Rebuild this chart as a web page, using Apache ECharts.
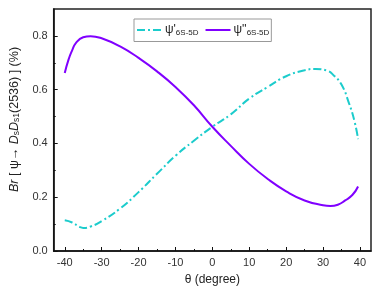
<!DOCTYPE html>
<html><head><meta charset="utf-8">
<script src="https://cdn.jsdelivr.net/npm/echarts@6/dist/echarts.min.js"></script>
<style>html,body{margin:0;padding:0;background:#fff}#c{width:382px;height:291px}</style>
</head><body><div id="c"></div>
<script>
var thetaP = [-40,-38,-36,-35,-33,-30,-25,-20,-15,-10,-5,0,5,10,15,20,25,28,31,33,35,37,38.5,39.5];
var psiP   = [0.114,0.106,0.090,0.086,0.091,0.111,0.158,0.219,0.287,0.354,0.410,0.462,0.508,0.567,0.610,0.650,0.672,0.677,0.671,0.652,0.619,0.551,0.484,0.416];
var thetaPP = [-40,-39,-38,-37,-35,-33,-30,-25,-20,-15,-10,-5,0,5,10,15,20,25,30,32,34,36,38,39.5];
var psiPP   = [0.662,0.711,0.746,0.773,0.795,0.799,0.791,0.761,0.718,0.668,0.610,0.542,0.462,0.391,0.324,0.268,0.222,0.188,0.170,0.167,0.172,0.188,0.209,0.240];
var xTicks = [-40,-30,-20,-10,0,10,20,30,40];
var xMinor = [-35,-25,-15,-5,5,15,25,35];
var yTicks = [0,0.2,0.4,0.6,0.8];
var yMinor = [0.1,0.3,0.5,0.7];

function pairs(xs, ys){ return xs.map(function(x,i){return [x, ys[i]];}); }
var FONT = 'Liberation Sans, Arial, sans-serif';
var chart = echarts.init(document.getElementById('c'));
chart.setOption({
  animation:false,
  textStyle:{fontFamily:FONT},
  grid:{left:44,right:11,top:9,bottom:38,show:true,borderColor:'#222',borderWidth:1.5,backgroundColor:'transparent'},
  legend:{
    top:19,left:134,
    borderColor:'#999',borderWidth:1,borderRadius:0,padding:[5,2,5,2],
    itemWidth:25,itemHeight:10,itemGap:6,
    textStyle:{fontFamily:FONT,fontSize:12,color:'#222',padding:[0,0,0,-2],rich:{sub:{fontSize:8,verticalAlign:'bottom',padding:[5,0,0,0]}}},
    formatter:function(n){ return n==='p1' ? "ψ'{sub|6S-5D}" : "ψ''{sub|6S-5D}"; },
    data:[{name:'p1',itemStyle:{opacity:0}},{name:'p2',itemStyle:{opacity:0}}]
  },
  xAxis:[{
    type:'value',min:-43,max:43,
    name:'θ (degree)',nameLocation:'middle',nameGap:23,
    nameTextStyle:{fontSize:12,color:'#222',fontFamily:FONT},
    axisLine:{show:true,onZero:false,lineStyle:{color:'#111',width:1.5}},
    axisTick:{show:true,inside:true,length:4,customValues:xTicks,lineStyle:{color:'#111'}},
    axisLabel:{customValues:xTicks,fontSize:11,color:'#333',margin:6},
    splitLine:{show:false}
  },{
    type:'value',min:-43,max:43,position:'bottom',
    axisLine:{show:false,onZero:false},
    axisTick:{show:true,inside:true,length:2,customValues:xMinor,lineStyle:{color:'#111'}},
    axisLabel:{show:false},splitLine:{show:false}
  }],
  yAxis:[{
    type:'value',min:0,max:0.9,
    name:'{i|Br} [ ψ→ {i|D}{sub|s}{i|D}{sub|s1}(2536) ] (%)',
    nameLocation:'middle',nameGap:27,
    nameTextStyle:{fontSize:12.5,color:'#222',fontFamily:FONT,padding:[0,0,0,21],
      rich:{i:{fontStyle:'italic',fontSize:12.5,fontFamily:FONT,color:'#222'},
            sub:{fontSize:8.5,fontFamily:FONT,color:'#222',verticalAlign:'bottom',padding:[5,0,0,0]}}},
    axisLine:{show:true,onZero:false,lineStyle:{color:'#111',width:1.5}},
    axisTick:{show:true,inside:true,length:4,customValues:yTicks,lineStyle:{color:'#111'}},
    axisLabel:{customValues:yTicks,fontSize:11,color:'#333',margin:6,formatter:function(v){return v.toFixed(1);}},
    splitLine:{show:false}
  },{
    type:'value',min:0,max:0.9,position:'left',
    axisLine:{show:false,onZero:false},
    axisTick:{show:true,inside:true,length:2,customValues:yMinor,lineStyle:{color:'#111'}},
    axisLabel:{show:false},splitLine:{show:false}
  }],
  series:[{
    name:'p1',type:'line',smooth:true,symbol:'none',
    data:pairs(thetaP,psiP),
    itemStyle:{color:'#1ccccc'},
    lineStyle:{color:'#1ccccc',width:2,type:[8,3,2,3]}
  },{
    name:'p2',type:'line',smooth:true,symbol:'none',
    data:pairs(thetaPP,psiPP),
    itemStyle:{color:'#8000ff'},
    lineStyle:{color:'#8000ff',width:2}
  }]
});
</script></body></html>
